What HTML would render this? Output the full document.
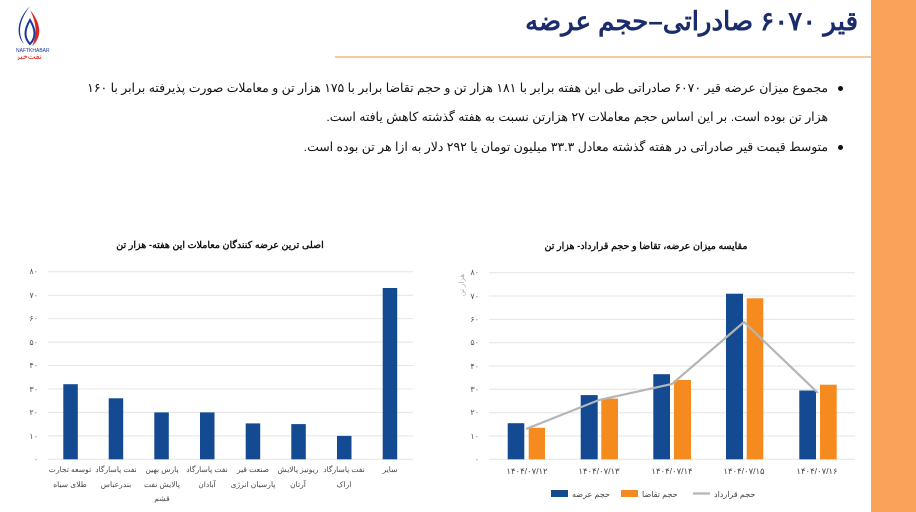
<!DOCTYPE html>
<html><head><meta charset="utf-8"><style>
body{margin:0;width:916px;height:512px;background:#fff;overflow:hidden;position:relative;font-family:"Liberation Sans","Noto Sans CJK SC",sans-serif;}
.band{position:absolute;left:871px;top:0;width:45px;height:512px;background:#f9a35a;}
.title{position:absolute;right:58px;top:6px;font-size:26px;font-weight:bold;color:#1a2c6b;direction:rtl;}
.hl{position:absolute;left:335px;top:56px;width:536px;height:2px;background:#f3c9a0;}
.txt{position:absolute;right:88px;direction:rtl;font-size:12.4px;color:#111;white-space:nowrap;}
.dot{position:absolute;left:838px;width:5px;height:5px;border-radius:50%;background:#111;}
</style></head><body>
<div class="band"></div>
<div class="title">قیر ۶۰۷۰ صادراتی–حجم عرضه</div>
<div class="hl"></div>
<svg style="position:absolute;left:10px;top:4px" width="40" height="56">
<path d="M20 2 C8 18 8 30 14 40 C6 32 6 16 20 2Z" fill="#1a3a9a"/>
<path d="M20 6 C32 20 32 34 22 42 C28 30 26 18 20 6Z" fill="#d62828"/>
<path d="M20 16 C14 26 14 34 20 40 C26 34 26 26 20 16Z" fill="#fff" stroke="#1a3a9a" stroke-width="2"/>
<text x="6" y="48" font-size="5" fill="#1a3a9a" font-family="Liberation Sans">NAFTKHABAR</text>
<text x="6" y="55" font-size="8" fill="#d62828" font-family="Liberation Sans,Noto Sans CJK SC">نفت‌خبر</text>
</svg>
<div class="dot" style="top:86px"></div>
<div class="txt" style="top:80px">مجموع میزان عرضه قیر ۶۰۷۰ صادراتی طی این هفته برابر با ۱۸۱ هزار تن و حجم تقاضا برابر با ۱۷۵ هزار تن و معاملات صورت پذیرفته برابر با ۱۶۰</div>
<div class="txt" style="top:109px">هزار تن بوده است. بر این اساس حجم معاملات ۲۷ هزارتن نسبت به هفته گذشته کاهش یافته است.</div>
<div class="dot" style="top:145px"></div>
<div class="txt" style="top:139px">متوسط قیمت قیر صادراتی در هفته گذشته معادل ۳۳.۳ میلیون تومان یا ۲۹۲ دلار به ازا هر تن بوده است.</div>

<svg style="position:absolute;left:0;top:0" width="916" height="512" font-family="Liberation Sans,Noto Sans CJK SC,sans-serif">
<g stroke="#e4e4e4" stroke-width="1">
<line x1="48" x2="413" y1="271.7" y2="271.7"/><line x1="48" x2="413" y1="295.2" y2="295.2"/><line x1="48" x2="413" y1="318.6" y2="318.6"/><line x1="48" x2="413" y1="342.1" y2="342.1"/><line x1="48" x2="413" y1="365.5" y2="365.5"/><line x1="48" x2="413" y1="389" y2="389"/><line x1="48" x2="413" y1="412.4" y2="412.4"/><line x1="48" x2="413" y1="435.9" y2="435.9"/><line x1="48" x2="413" y1="459.3" y2="459.3"/>
<line x1="489" x2="855" y1="272.7" y2="272.7"/><line x1="489" x2="855" y1="296" y2="296"/><line x1="489" x2="855" y1="319.4" y2="319.4"/><line x1="489" x2="855" y1="342.7" y2="342.7"/><line x1="489" x2="855" y1="366" y2="366"/><line x1="489" x2="855" y1="389.3" y2="389.3"/><line x1="489" x2="855" y1="412.7" y2="412.7"/><line x1="489" x2="855" y1="436" y2="436"/><line x1="489" x2="855" y1="459.3" y2="459.3"/>
</g>
<g font-size="8" fill="#555" text-anchor="end">
<text x="38" y="274">۸۰</text><text x="38" y="298">۷۰</text><text x="38" y="321">۶۰</text><text x="38" y="345">۵۰</text><text x="38" y="368">۴۰</text><text x="38" y="392">۳۰</text><text x="38" y="415">۲۰</text><text x="38" y="439">۱۰</text><text x="38" y="462">۰</text>
<text x="479" y="275">۸۰</text><text x="479" y="299">۷۰</text><text x="479" y="322">۶۰</text><text x="479" y="345">۵۰</text><text x="479" y="369">۴۰</text><text x="479" y="392">۳۰</text><text x="479" y="415">۲۰</text><text x="479" y="439">۱۰</text><text x="479" y="462">۰</text>
</g>
<text x="464" y="285" font-size="7" fill="#aaa" transform="rotate(-90 464 285)" text-anchor="middle">هزار تن</text>
<text x="220" y="248" font-size="9.5" font-weight="bold" text-anchor="middle" fill="#111">اصلی ترین عرضه کنندگان معاملات این هفته- هزار تن</text>
<text x="646" y="249" font-size="9.5" font-weight="bold" text-anchor="middle" fill="#111">مقایسه میزان عرضه، تقاضا و حجم قرارداد-  هزار تن</text>
<g fill="#134a91">
<rect x="63.3" y="384.2" width="14.5" height="75.1"/>
<rect x="108.7" y="398.3" width="14.5" height="61"/>
<rect x="154.3" y="412.4" width="14.5" height="46.9"/>
<rect x="200" y="412.4" width="14.5" height="46.9"/>
<rect x="245.7" y="423.4" width="14.5" height="35.9"/>
<rect x="291.3" y="424.1" width="14.5" height="35.2"/>
<rect x="337" y="435.9" width="14.5" height="23.4"/>
<rect x="382.7" y="288" width="14.5" height="171.3"/>
<rect x="507.7" y="423.2" width="16.6" height="36.1"/>
<rect x="580.7" y="395.1" width="17" height="64.2"/>
<rect x="653.3" y="374.2" width="16.7" height="85.1"/>
<rect x="726" y="293.7" width="17" height="165.6"/>
<rect x="799.3" y="390.5" width="16.7" height="68.8"/>
</g>
<g fill="#f58a1f">
<rect x="528.7" y="427.8" width="16.3" height="31.5"/>
<rect x="601.3" y="398.6" width="16.7" height="60.7"/>
<rect x="674" y="380" width="17" height="79.3"/>
<rect x="746.7" y="298.3" width="16.6" height="161"/>
<rect x="820" y="384.7" width="16.7" height="74.6"/>
</g>
<polyline points="526,429 599,400 672,384 744,322 818,393" fill="none" stroke="#b5b5b5" stroke-width="2.2"/>
<g font-size="8.5" fill="#444" text-anchor="middle">
<text x="527" y="474">۱۴۰۴/۰۷/۱۲</text><text x="599" y="474">۱۴۰۴/۰۷/۱۳</text><text x="672" y="474">۱۴۰۴/۰۷/۱۴</text><text x="744" y="474">۱۴۰۴/۰۷/۱۵</text><text x="817" y="474">۱۴۰۴/۰۷/۱۶</text>
</g>
<rect x="551" y="490" width="17" height="7" fill="#134a91"/><text x="572" y="497" font-size="8" fill="#444">حجم عرضه</text>
<rect x="621" y="490" width="17" height="7" fill="#f58a1f"/><text x="642" y="497" font-size="8" fill="#444">حجم تقاضا</text>
<line x1="693" x2="710" y1="493.5" y2="493.5" stroke="#b5b5b5" stroke-width="2.2"/><text x="714" y="497" font-size="8" fill="#444">حجم قرارداد</text>
<g font-size="7.6" fill="#444" text-anchor="middle">
<text x="70" y="472">توسعه تجارت</text><text x="70" y="487">طلای سیاه</text>
<text x="116" y="472">نفت پاسارگاد</text><text x="116" y="487">بندرعباس</text>
<text x="162" y="472">پارس بهین</text><text x="162" y="487">پالایش نفت</text><text x="162" y="501">قشم</text>
<text x="207" y="472">نفت پاسارگاد</text><text x="207" y="487">آبادان</text>
<text x="253" y="472">صنعت قیر</text><text x="253" y="487">پارسیان انرژی</text>
<text x="298" y="472">ریونیز پالایش</text><text x="298" y="487">آرتان</text>
<text x="344" y="472">نفت پاسارگاد</text><text x="344" y="487">اراک</text>
<text x="390" y="472">سایر</text>
</g>
</svg>
</body></html>
